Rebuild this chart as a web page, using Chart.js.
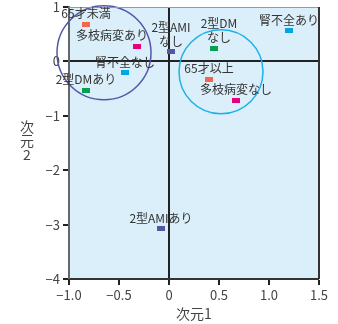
<!DOCTYPE html>
<html><head><meta charset="utf-8">
<script src="https://cdn.jsdelivr.net/npm/chart.js@4/dist/chart.umd.min.js"></script>
<style>html,body{margin:0;padding:0;background:#fff;}canvas{display:block;}</style>
</head><body>
<canvas id="c" width="338" height="324"></canvas>
<script>
const categories = ['65才未満','多枝病変あり','腎不全なし','2型DMあり','2型AMI\nなし','2型DM\nなし','腎不全あり','65才以上','多枝病変なし','2型AMIあり'];
const dim1 = [-0.83,-0.32,-0.44,-0.83,0.02,0.45,1.20,0.40,0.67,-0.08];
const dim2 = [0.68,0.28,-0.21,-0.53,0.18,0.24,0.56,-0.33,-0.71,-3.08];
const variable = ['age','multi','renal','dm','ami','dm','renal','age','multi','ami'];
const clusterX = [-0.65, 0.52];
const clusterY = [0.16, -0.19];
const xTicks = [-1.0,-0.5,0,0.5,1.0,1.5];
const yTicks = [1,0,-1,-2,-3,-4];
const xTitle = '次元1';
const yTitle = '次元2';

const colors = {age:'#f2674c', multi:'#e4007f', renal:'#00a6e4', dm:'#00a24f', ami:'#5456a2'};
const clusterColors = ['#5457a8', '#1cb0ea'];
const clusterRadius = [47, 42];
const labelShift = {1:-25, 5:5};
const FONT = "'Noto Sans CJK JP','DejaVu Sans',sans-serif";

function rectStyle(color){
  const c = document.createElement('canvas'); c.width = 8; c.height = 5;
  const g = c.getContext('2d'); g.fillStyle = color; g.fillRect(0,0,8,5); return c;
}

const bgPlugin = {
  id:'bg',
  beforeDraw(chart){
    const {ctx, chartArea:a} = chart;
    ctx.save(); ctx.fillStyle = '#dbeffa';
    ctx.fillRect(a.left, a.top, a.right-a.left, a.bottom-a.top);
    ctx.restore();
  },
  afterDatasetsDraw(chart){
    const {ctx, chartArea:a} = chart;
    ctx.save();
    ctx.strokeStyle = '#999'; ctx.lineWidth = 1;
    ctx.beginPath(); ctx.moveTo(a.left, a.top+0.5); ctx.lineTo(a.right, a.top+0.5); ctx.stroke();
    ctx.strokeStyle = '#333'; ctx.lineWidth = 2;
    ctx.beginPath(); ctx.moveTo(a.right, a.top); ctx.lineTo(a.right, a.bottom); ctx.stroke();
    const meta = chart.getDatasetMeta(1);
    ctx.font = '12px ' + FONT; ctx.fillStyle = '#333';
    ctx.textAlign = 'center'; ctx.textBaseline = 'alphabetic';
    meta.data.forEach((p, i) => {
      const lines = categories[i].split('\n');
      const dx = labelShift[i] || 0;
      for (let k = 0; k < lines.length; k++) {
        const y = p.y - 6 - (lines.length-1-k)*14;
        ctx.fillText(lines[k], p.x + dx, y);
      }
    });
    ctx.font = '14px ' + FONT; ctx.fillStyle = '#444'; ctx.textBaseline = 'middle';
    ctx.fillText(xTitle, (a.left+a.right)/2, 314);
    [...yTitle].forEach((ch, k) => ctx.fillText(ch, 27, 127 + k*14));
    ctx.restore();
  }
};

const tickFont = {family: FONT, size: 13};

new Chart(document.getElementById('c'), {
  type: 'scatter',
  data: {
    datasets: [
      {
        data: clusterX.map((x,i)=>({x, y: clusterY[i]})),
        pointRadius: clusterRadius,
        pointBackgroundColor: 'rgba(0,0,0,0)',
        pointBorderColor: clusterColors,
        pointBorderWidth: 1.5,
        clip: false
      },
      {
        data: dim1.map((x,i)=>({x, y: dim2[i]})),
        pointStyle: variable.map(v => rectStyle(colors[v])),
        pointRadius: 4,
        clip: false
      }
    ]
  },
  options: {
    responsive: false,
    animation: false,
    events: [],
    devicePixelRatio: 1,
    layout: {autoPadding: false, padding: {left:0, right:19, top:7, bottom:0}},
    plugins: {legend:{display:false}, tooltip:{enabled:false}},
    scales: {
      x: {
        type:'linear', min:-1, max:1.5,
        afterBuildTicks(s){ s.ticks = xTicks.map(v=>({value:v})); },
        afterFit(s){ s.height = 45; s.paddingLeft = 0; s.paddingRight = 0; },
        ticks: {
          font: tickFont, color:'#444', padding: 2, maxRotation:0, autoSkip:false,
          callback: v => v === 0 ? '0' : (v<0?'−':'') + Math.abs(v).toFixed(1)
        },
        border: {display:true, color:'#333', width:2},
        grid: {
          drawOnChartArea: true, drawTicks: true, tickLength: 6, tickWidth: 2, tickColor:'#222',
          color: c => (c.tick && c.tick.value === 0) ? '#222' : 'rgba(0,0,0,0)',
          lineWidth: c => (c.tick && c.tick.value === 0) ? 2 : 0
        }
      },
      y: {
        type:'linear', min:-4, max:1,
        afterBuildTicks(s){ s.ticks = yTicks.slice().reverse().map(v=>({value:v})); },
        afterFit(s){ s.width = 69; s.paddingTop = 0; s.paddingBottom = 0; },
        ticks: {
          font: tickFont, color:'#444', padding: 3, autoSkip:false,
          callback: v => (v<0?'−':'') + Math.abs(v)
        },
        border: {display:true, color:'#666', width:2},
        grid: {
          drawOnChartArea: true, drawTicks: true, tickLength: 6, tickWidth: 2, tickColor:'#222',
          color: c => (c.tick && c.tick.value === 0) ? '#222' : 'rgba(0,0,0,0)',
          lineWidth: c => (c.tick && c.tick.value === 0) ? 2 : 0
        }
      }
    }
  },
  plugins: [bgPlugin]
});
</script>
</body></html>
